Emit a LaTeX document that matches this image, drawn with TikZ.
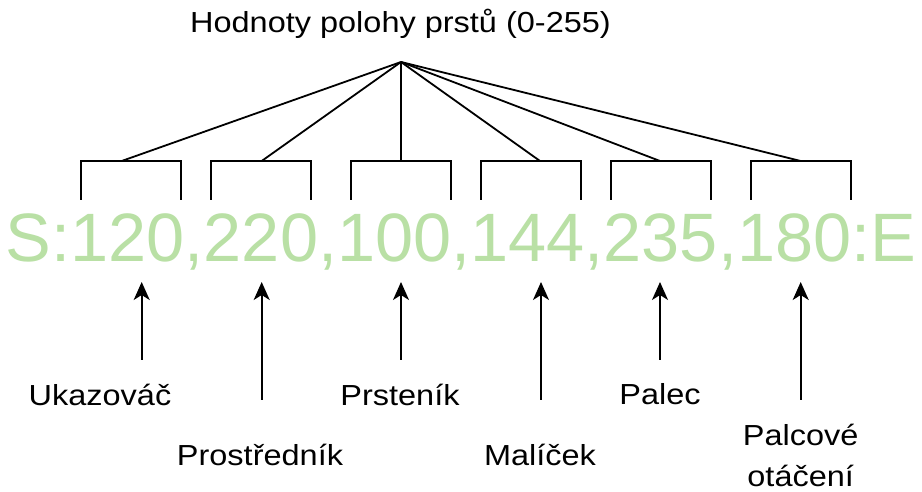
\documentclass[tikz,border=0pt]{standalone}
\usepackage{fontspec}
\setmainfont{Liberation Sans}
\newfontfamily\labelfont[FakeStretch=1.12]{Liberation Sans}
\usepackage{tikz}
\usetikzlibrary{arrows.meta}
\definecolor{datagreen}{HTML}{B9E0A5}
\tikzstyle{arrow} = [line width=1.8pt,->,>={Stealth[length=18pt,width=16pt,inset=5pt]}]
\tikzstyle{wire} = [line width=1.8pt]
\tikzstyle{fingerlabel} = [font=\labelfont\fontsize{29}{41}\selectfont, anchor=base, inner sep=0pt, align=center]

\begin{document}
\begin{tikzpicture}[x=1pt,y=1pt]
    \useasboundingbox (0,0) rectangle (922,492);

    \node (title) [fingerlabel] at (400.5,459) {Hodnoty polohy prstů (0-255)};
    \coordinate (apex) at (401,430);
    \node (data) [anchor=base, inner sep=0pt, text=datagreen, font=\fontsize{68.5}{80}\selectfont] at (461,230) {S:120,220,100,144,235,180:E};

    % Brackets
    \coordinate (b1) at (121.7,331);
    \coordinate (b2) at (261.7,331);
    \coordinate (b3) at (401,331);
    \coordinate (b4) at (540,331);
    \coordinate (b5) at (660,331);
    \coordinate (b6) at (800.7,331);
    \draw[wire] (81,292) |- (181,331) -- (181,292);
    \draw[wire] (211,292) |- (311,331) -- (311,292);
    \draw[wire] (351,292) |- (451,331) -- (451,292);
    \draw[wire] (481,292) |- (581,331) -- (581,292);
    \draw[wire] (611,292) |- (711,331) -- (711,292);
    \draw[wire] (751,292) |- (851,331) -- (851,292);

    % Fan
    \draw[wire] (apex) -- (b1);
    \draw[wire] (apex) -- (b2);
    \draw[wire] (apex) -- (b3);
    \draw[wire] (apex) -- (b4);
    \draw[wire] (apex) -- (b5);
    \draw[wire] (apex) -- (b6);

    % Labels
    \node (index) [fingerlabel] at (100,86) {Ukazováč};
    \node (middle) [fingerlabel] at (260,26) {Prostředník};
    \node (ring) [fingerlabel] at (400,86) {Prsteník};
    \node (little) [fingerlabel] at (540,26) {Malíček};
    \node (thumb) [fingerlabel] at (660,87) {Palec};
    \node (rotation) [fingerlabel] at (800.7,5) {Palcové\\otáčení};

    % Arrows
    \coordinate (a1) at (141.7,132);
    \coordinate (a2) at (261.7,92);
    \coordinate (a3) at (401,132);
    \coordinate (a4) at (541,92);
    \coordinate (a5) at (660,132);
    \coordinate (a6) at (800.7,92);
    \draw[arrow] (a1) -- (141.7,210);
    \draw[arrow] (a2) -- (261.7,210);
    \draw[arrow] (a3) -- (401,210);
    \draw[arrow] (a4) -- (541,210);
    \draw[arrow] (a5) -- (660,210);
    \draw[arrow] (a6) -- (800.7,210);
   \end{tikzpicture}
\end{document}
